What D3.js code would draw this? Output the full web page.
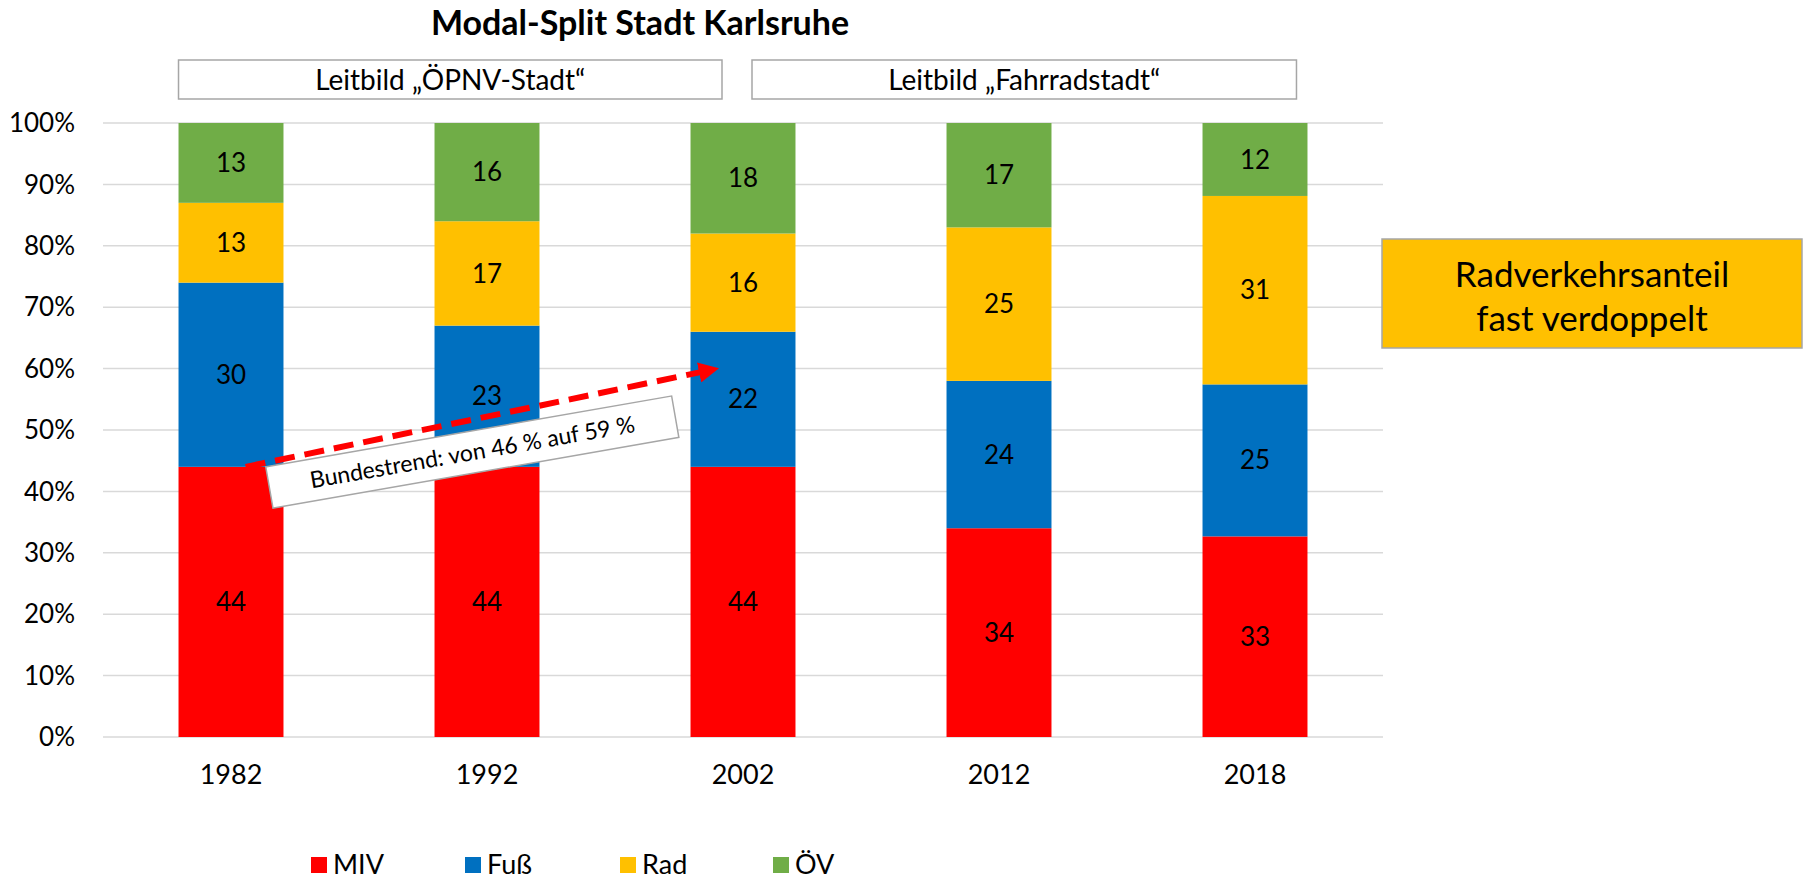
<!DOCTYPE html>
<html>
<head>
<meta charset="utf-8">
<script src="https://cdn.jsdelivr.net/npm/d3@7"></script>
<style>
  body { margin: 0; background: #fff; }
  text { font-family: Lato, "Open Sans", sans-serif; fill: #000; }
</style>
</head>
<body>
<div id="chart"></div>
<script>
// data
var years = ["1982", "1992", "2002", "2012", "2018"];
var modes = ["MIV", "Fuß", "Rad", "ÖV"];
var miv = [44, 44, 44, 34, 33];
var fuss = [30, 23, 22, 24, 25];
var rad = [13, 17, 16, 25, 31];
var oev = [13, 16, 18, 17, 12];
var colors = ["#FF0000", "#0070C0", "#FFC000", "#70AD47"];
var yTicks = [0, 0.1, 0.2, 0.3, 0.4, 0.5, 0.6, 0.7, 0.8, 0.9, 1];
var phases = [
  {label: "Leitbild „ÖPNV-Stadt“", from: "1982", to: "2002"},
  {label: "Leitbild „Fahrradstadt“", from: "2002", to: "2018"}
];
var trend = {text: "Bundestrend: von 46 % auf 59 %", from: {year: "1982", v: 0.44}, to: {year: "2002", v: 0.60}};

var W = 1809, H = 879;
var margin = {top: 123, right: 426, bottom: 142, left: 103};

var svg = d3.select("#chart").append("svg")
    .attr("width", W).attr("height", H);

var xScale = d3.scaleBand().domain(years)
    .range([margin.left, W - margin.right])
    .paddingInner(0.59).paddingOuter(0.295);
var yScale = d3.scaleLinear().domain([0, 1]).range([H - margin.bottom, margin.top]);

var table = years.map(function(y, i) {
  return {year: y, "MIV": miv[i], "Fuß": fuss[i], "Rad": rad[i], "ÖV": oev[i]};
});
var series = d3.stack().keys(modes).offset(d3.stackOffsetExpand)(table);

// gridlines
svg.append("g").selectAll("line").data(yTicks).join("line")
    .attr("x1", margin.left).attr("x2", W - margin.right)
    .attr("y1", d => yScale(d)).attr("y2", d => yScale(d))
    .attr("stroke", "#D9D9D9").attr("stroke-width", 1.5);

// y axis labels
svg.append("g").selectAll("text").data(yTicks).join("text")
    .attr("x", 75).attr("y", d => yScale(d))
    .attr("dy", "0.35em").attr("text-anchor", "end")
    .style("font-size", "26px")
    .text(d => d3.format(".0%")(d));

// bars
var groups = svg.append("g").selectAll("g").data(series).join("g")
    .attr("fill", (d, i) => colors[i]);
groups.selectAll("rect").data(d => d).join("rect")
    .attr("x", d => xScale(d.data.year))
    .attr("width", xScale.bandwidth())
    .attr("y", d => yScale(d[1]))
    .attr("height", d => yScale(d[0]) - yScale(d[1]));

// value labels
series.forEach(function(s) {
  svg.append("g").selectAll("text").data(s).join("text")
      .attr("x", d => xScale(d.data.year) + xScale.bandwidth() / 2)
      .attr("y", d => (yScale(d[0]) + yScale(d[1])) / 2)
      .attr("dy", "0.35em").attr("text-anchor", "middle")
      .style("font-size", "26px")
      .text(d => d.data[s.key]);
});

// x labels
svg.append("g").selectAll("text").data(years).join("text")
    .attr("x", d => xScale(d) + xScale.bandwidth() / 2)
    .attr("y", 775).attr("dy", "0.35em").attr("text-anchor", "middle")
    .style("font-size", "27px")
    .text(d => d);

// title
svg.append("text").attr("x", 640).attr("y", 35)
    .attr("text-anchor", "middle")
    .style("font-size", "34px").style("font-weight", "bold")
    .text("Modal-Split Stadt Karlsruhe");

// phase boxes
phases.forEach(function(p, i) {
  var x0 = i == 0 ? xScale(p.from) : 752;
  var x1 = i == 0 ? 722 : xScale(p.to) + xScale.bandwidth() - 11;
  svg.append("rect").attr("x", x0).attr("y", 60).attr("width", x1 - x0).attr("height", 39)
      .attr("fill", "#fff").attr("stroke", "#A6A6A6").attr("stroke-width", 1.5);
  svg.append("text").attr("x", (x0 + x1) / 2).attr("y", 80)
      .attr("dy", "0.35em").attr("text-anchor", "middle")
      .style("font-size", "28px")
      .text(p.label);
});

// trend arrow
var defs = svg.append("defs");
defs.append("marker").attr("id", "arrow")
    .attr("viewBox", "0 -5 10 10").attr("refX", 2).attr("refY", 0)
    .attr("markerWidth", 3.4).attr("markerHeight", 3.4)
    .attr("markerUnits", "strokeWidth")
    .attr("orient", "auto")
    .append("path").attr("d", "M0,-5L10,0L0,5Z").attr("fill", "#FF0000");

var ax0 = xScale(trend.from.year) + xScale.bandwidth() * 0.64,
    ay0 = yScale(trend.from.v),
    ax1 = xScale(trend.to.year) + xScale.bandwidth() * 0.12,
    ay1 = yScale(trend.to.v) + 3;
svg.append("line")
    .attr("x1", ax0).attr("y1", ay0).attr("x2", ax1).attr("y2", ay1)
    .attr("stroke", "#FF0000").attr("stroke-width", 6)
    .attr("stroke-dasharray", "20,10")
    .attr("marker-end", "url(#arrow)");

// trend label box
var cx = xScale("1992") + xScale.bandwidth() * 0.36,
    cy = yScale(0.464);
var lbl = svg.append("g").attr("transform", "translate(" + cx + "," + cy + ") rotate(-9.9)");
lbl.append("rect").attr("x", -206).attr("y", -21).attr("width", 412).attr("height", 42)
    .attr("fill", "#fff").attr("stroke", "#A6A6A6").attr("stroke-width", 1.5);
lbl.append("text").attr("x", 0).attr("y", 0).attr("dy", "0.35em")
    .attr("text-anchor", "middle").style("font-size", "23px")
    .text(trend.text);

// callout box
svg.append("rect").attr("x", 1382).attr("y", 239).attr("width", 420).attr("height", 109)
    .attr("fill", "#FFC000").attr("stroke", "#A6A6A6").attr("stroke-width", 1.5);
svg.append("text").attr("x", 1592).attr("y", 275).attr("dy", "0.35em")
    .attr("text-anchor", "middle").style("font-size", "35px").text("Radverkehrsanteil");
svg.append("text").attr("x", 1592).attr("y", 319).attr("dy", "0.35em")
    .attr("text-anchor", "middle").style("font-size", "35px").text("fast verdoppelt");

// legend
var legendX = [311, 465, 620, 773];
var leg = svg.append("g").selectAll("g").data(modes).join("g")
    .attr("transform", (d, i) => "translate(" + legendX[i] + ",857)");
leg.append("rect").attr("width", 16).attr("height", 16).attr("fill", (d, i) => colors[i]);
leg.append("text").attr("x", 22).attr("y", 8).attr("dy", "0.35em")
    .style("font-size", "27px").text(d => d);
</script>
</body>
</html>
